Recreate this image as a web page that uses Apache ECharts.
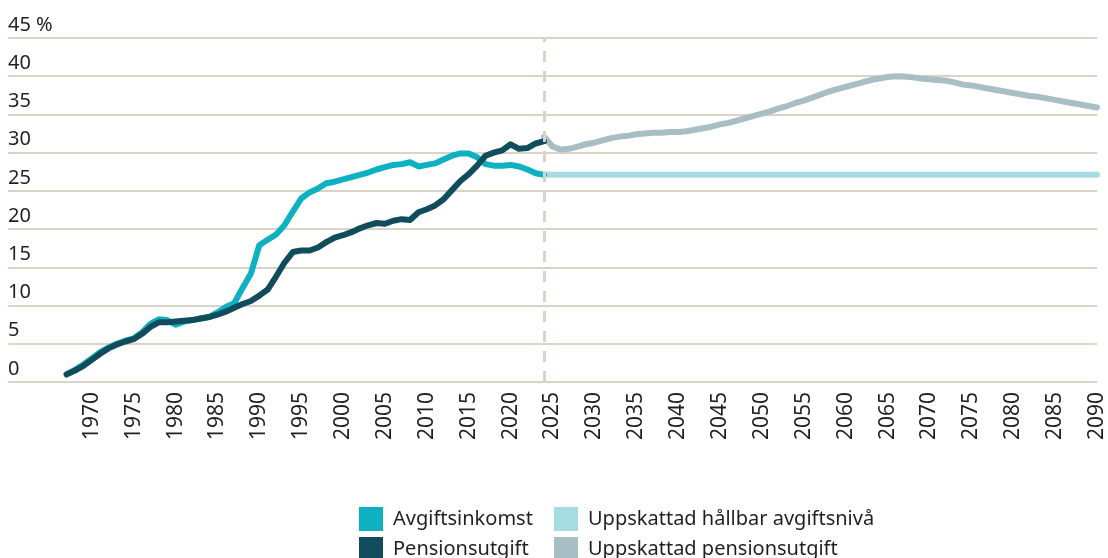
<!DOCTYPE html>
<html>
<head>
<meta charset="utf-8">
<script src="https://cdn.jsdelivr.net/npm/echarts@6/dist/echarts.min.js"></script>
<style>
  html, body { margin: 0; padding: 0; background: #fff; }
  #chart { width: 1108px; height: 558px; }
</style>
</head>
<body>
<div id="chart"></div>
<script>
// historiska år 1967-2024
var histYears = [];
for (var y = 1967; y <= 2024; y++) histYears.push(y);

var avgiftsinkomst = [
  1.0, 1.6, 2.3, 3.1, 3.9, 4.5, 5.0, 5.4, 5.7, 6.5,
  7.6, 8.2, 8.1, 7.5, 7.9, 8.1, 8.3, 8.5, 9.1, 9.8,
  10.3, 12.3, 14.2, 17.9, 18.6, 19.3, 20.5, 22.3, 24.0, 24.8,
  25.3, 26.0, 26.2, 26.5, 26.8, 27.1, 27.4, 27.8, 28.1, 28.4,
  28.5, 28.75, 28.2, 28.4, 28.6, 29.1, 29.6, 29.9, 29.9, 29.4,
  28.5, 28.3, 28.3, 28.4, 28.2, 27.8, 27.3, 27.1
];

var pensionsutgift = [
  1.0, 1.5, 2.1, 2.9, 3.7, 4.4, 4.9, 5.3, 5.6, 6.3,
  7.2, 7.8, 7.8, 7.9, 8.0, 8.1, 8.3, 8.5, 8.8, 9.2,
  9.7, 10.2, 10.6, 11.3, 12.1, 13.8, 15.6, 17.0, 17.2, 17.2,
  17.6, 18.3, 18.9, 19.2, 19.6, 20.1, 20.5, 20.8, 20.7, 21.1,
  21.3, 21.2, 22.2, 22.6, 23.1, 23.9, 25.1, 26.3, 27.2, 28.3,
  29.6, 30.0, 30.3, 31.1, 30.5, 30.6, 31.2, 31.5
];

// prognos 2024-2090
var progYears = [];
for (var p = 2024; p <= 2090; p++) progYears.push(p);

var uppskattadUtgift = [
  32.1, 30.8, 30.4, 30.5, 30.8, 31.1, 31.3, 31.6, 31.9, 32.1,
  32.2, 32.4, 32.5, 32.6, 32.6, 32.7, 32.7, 32.8, 33.0, 33.2,
  33.4, 33.7, 33.9, 34.2, 34.5, 34.8, 35.1, 35.4, 35.8, 36.1,
  36.5, 36.8, 37.2, 37.6, 38.0, 38.3, 38.6, 38.9, 39.2, 39.5,
  39.7, 39.9, 40.0, 39.95, 39.85, 39.7, 39.6, 39.5, 39.4, 39.2,
  38.9, 38.8, 38.6, 38.4, 38.2, 38.0, 37.8, 37.6, 37.4, 37.3,
  37.1, 36.9, 36.7, 36.5, 36.3, 36.1, 35.9
];

var hallbarYears = [2024, 2090];
var hallbarNiva = [27.1, 27.1];

function pairs(xs, vs) {
  return xs.map(function (x, i) { return [x, vs[i]]; });
}

var chartDom = document.getElementById('chart');
var myChart = echarts.init(chartDom);
var font = 'Noto Sans';
var legendBase = {
  orient: 'vertical',
  top: 507,
  height: 80,
  padding: 0,
  itemWidth: 24,
  itemHeight: 24,
  itemGap: 6,
  icon: 'rect',
  textStyle: { fontSize: 20, color: '#231f20', fontFamily: font, padding: [0, 0, 0, 5] }
};
var option = {
  animation: false,
  textStyle: { fontFamily: font },
  grid: { left: 8, right: 11, top: 38, bottom: 176, containLabel: false },
  xAxis: {
    type: 'value',
    min: 1960,
    max: 2090,
    interval: 5,
    axisLine: { show: false },
    axisTick: { show: false },
    splitLine: { show: false },
    axisLabel: {
      rotate: 90,
      margin: 10,
      fontSize: 21,
      color: '#231f20',
      fontFamily: font,
      formatter: function (v) { return v < 1970 ? '' : String(v); }
    }
  },
  yAxis: {
    type: 'value',
    min: 0,
    max: 45,
    interval: 5,
    axisLine: { show: false },
    axisTick: { show: false },
    splitLine: { lineStyle: { color: '#dad4c6', width: 2 } },
    axisLabel: {
      inside: true,
      margin: 0,
      verticalAlign: 'bottom',
      padding: [0, 0, 3, 0],
      fontSize: 20,
      color: '#231f20',
      fontFamily: font,
      formatter: function (v) { return v === 45 ? '45 %' : String(v); }
    }
  },
  legend: [
    Object.assign({}, legendBase, {
      left: 359,
      data: ['Avgiftsinkomst', 'Pensionsutgift']
    }),
    Object.assign({}, legendBase, {
      left: 554,
      data: ['Uppskattad hållbar avgiftsnivå', 'Uppskattad pensionsutgift']
    })
  ],
  series: [
    {
      name: 'Uppskattad hållbar avgiftsnivå',
      type: 'line',
      color: '#a8dce3',
      data: pairs(hallbarYears, hallbarNiva),
      symbol: 'none',
      lineStyle: { width: 6, cap: 'round' },
      markLine: {
        silent: true,
        symbol: 'none',
        label: { show: false },
        lineStyle: { color: '#dad4c6', width: 3, type: [11, 9] },
        data: [{ xAxis: 2024 }]
      }
    },
    {
      name: 'Uppskattad pensionsutgift',
      type: 'line',
      color: '#a7bec5',
      data: pairs(progYears, uppskattadUtgift),
      symbol: 'none',
      lineStyle: { width: 6, cap: 'round', join: 'round' }
    },
    {
      name: 'Avgiftsinkomst',
      type: 'line',
      color: '#0db1c1',
      data: pairs(histYears, avgiftsinkomst),
      symbol: 'none',
      lineStyle: { width: 6, cap: 'round', join: 'round' }
    },
    {
      name: 'Pensionsutgift',
      type: 'line',
      color: '#114c5d',
      data: pairs(histYears, pensionsutgift),
      symbol: 'none',
      lineStyle: { width: 6, cap: 'round', join: 'round' }
    }
  ]
};

option && myChart.setOption(option);
</script>
</body>
</html>
